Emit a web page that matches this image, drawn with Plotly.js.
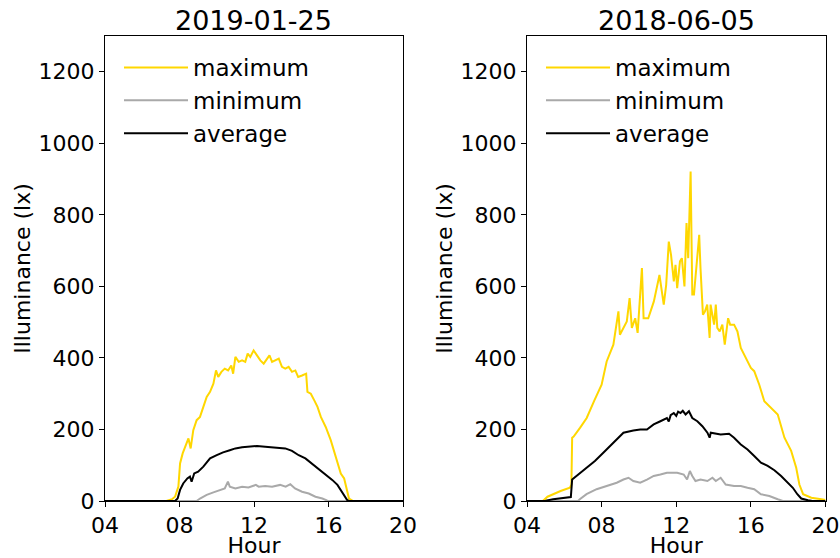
<!DOCTYPE html>
<html>
<head>
<meta charset="utf-8">
<script src="https://cdn.plot.ly/plotly-3.0.1.min.js"></script>
<style>
  html, body { margin: 0; padding: 0; background: #fff; }
  #chart { width: 840px; height: 558px; }
</style>
</head>
<body>
<div id="chart"></div>
<script>
// Daily illuminance profiles (lx) for two days, by hour of day.
const panelTitles = ['2019-01-25', '2018-06-05'];
const seriesNames = ['maximum', 'minimum', 'average'];
const seriesColors = ['#FFD700', '#A9A9A9', '#000000'];
const hourTickVals = [4, 8, 12, 16, 20];
const hourTickText = ['04', '08', '12', '16', '20'];
const luxTickVals = [0, 200, 400, 600, 800, 1000, 1200];

// 2019-01-25
const janMaxHours = [4, 7.3, 7.6, 7.76, 7.94, 8.03, 8.17, 8.35, 8.48, 8.6, 8.74, 8.92, 9.1, 9.28, 9.46, 9.64, 9.82, 9.96, 10.08, 10.25, 10.43, 10.61, 10.78, 10.88, 11.0, 11.18, 11.36, 11.53, 11.66, 11.8, 11.98, 12.16, 12.34, 12.52, 12.7, 12.83, 12.97, 13.15, 13.33, 13.5, 13.68, 13.86, 14.04, 14.22, 14.37, 14.58, 14.8, 14.87, 15.05, 15.23, 15.41, 15.59, 15.85, 16.12, 16.39, 16.66, 16.84, 16.97, 17.1, 17.28, 20];
const janMax = [0, 0, 5, 12, 40, 105, 133, 161, 175, 147, 198, 226, 235, 263, 291, 305, 328, 365, 347, 361, 370, 365, 379, 356, 403, 389, 393, 389, 412, 403, 421, 407, 393, 384, 398, 407, 389, 393, 398, 375, 370, 375, 361, 365, 347, 351, 356, 305, 300, 282, 263, 235, 207, 170, 124, 77, 63, 31, 7, 1, 0];

const janMinHours = [4, 8.92, 9.1, 9.46, 9.82, 10.16, 10.43, 10.6, 10.7, 11.0, 11.36, 11.7, 12.1, 12.25, 12.6, 12.97, 13.4, 13.7, 13.95, 14.2, 14.58, 14.94, 15.3, 15.67, 15.94, 16.1, 20];
const janMin = [0, 0, 7, 17, 24, 31, 35, 54, 40, 35, 40, 38, 45, 40, 42, 40, 45, 40, 47, 35, 26, 21, 12, 7, 1, 0, 0];

const janAvgHours = [4, 7.76, 7.9, 8.03, 8.2, 8.42, 8.56, 8.65, 8.79, 9.0, 9.28, 9.64, 10.0, 10.34, 10.7, 11.0, 11.36, 11.71, 12.16, 12.6, 12.97, 13.33, 13.68, 14.04, 14.4, 14.76, 15.1, 15.5, 15.85, 16.2, 16.48, 16.66, 16.84, 17.0, 17.1, 20];
const janAvg = [0, 0, 7, 31, 49, 63, 68, 54, 77, 82, 96, 119, 128, 136, 142, 147, 150, 152, 154, 152, 150, 147, 147, 140, 128, 119, 105, 86, 73, 59, 45, 31, 17, 3, 0, 0];

// 2018-06-05
const junMaxHours = [4, 4.85, 5.1, 5.4, 5.8, 6.3, 6.38, 6.42, 6.5, 6.85, 7.2, 7.6, 8.0, 8.27, 8.63, 8.9, 8.98, 9.35, 9.5, 9.62, 9.8, 9.93, 10.16, 10.25, 10.5, 10.8, 11.0, 11.1, 11.33, 11.46, 11.6, 11.72, 11.87, 11.96, 12.05, 12.2, 12.3, 12.44, 12.55, 12.64, 12.77, 12.86, 12.95, 13.06, 13.23, 13.3, 13.43, 13.54, 13.66, 13.79, 13.84, 14.03, 14.12, 14.2, 14.33, 14.47, 14.6, 14.78, 14.89, 15.1, 15.28, 15.46, 15.73, 16.0, 16.18, 16.45, 16.72, 17.08, 17.44, 17.8, 18.16, 18.43, 18.6, 18.8, 19.24, 19.78, 20];
const junMax = [0, 0, 12, 19, 28, 37, 46, 177, 180, 205, 232, 280, 325, 390, 437, 530, 465, 502, 567, 484, 511, 470, 651, 511, 511, 558, 604, 632, 549, 604, 725, 688, 614, 660, 595, 670, 679, 600, 777, 679, 921, 577, 577, 642, 744, 651, 521, 530, 549, 456, 549, 493, 549, 484, 474, 493, 437, 511, 493, 493, 474, 428, 400, 372, 363, 325, 279, 260, 242, 177, 140, 93, 46, 19, 9, 5, 3];

const junMinHours = [4, 6.74, 6.83, 7.19, 7.73, 8.27, 8.81, 9.17, 9.44, 9.7, 10.07, 10.43, 10.79, 11.15, 11.5, 12.05, 12.4, 12.58, 12.73, 12.86, 13.03, 13.3, 13.67, 13.94, 14.12, 14.38, 14.65, 15.1, 15.46, 15.82, 16.18, 16.54, 16.99, 17.44, 17.71, 20];
const junMin = [0, 0, 5, 19, 33, 42, 51, 60, 65, 56, 51, 60, 70, 74, 79, 79, 74, 60, 84, 70, 56, 60, 56, 65, 56, 65, 46, 42, 42, 37, 33, 19, 14, 5, 0, 0];

const junAvgHours = [4, 5.0, 5.4, 5.9, 6.35, 6.42, 6.74, 7.19, 7.64, 8.09, 8.63, 9.17, 9.7, 10.07, 10.43, 10.79, 11.15, 11.5, 11.6, 11.7, 11.87, 12.0, 12.1, 12.23, 12.35, 12.5, 12.68, 12.86, 13.13, 13.4, 13.67, 13.79, 13.85, 14.38, 14.83, 15.1, 15.46, 15.82, 16.18, 16.54, 16.9, 17.26, 17.62, 17.98, 18.25, 18.49, 18.7, 19.06, 19.3, 20];
const junAvg = [0, 1, 5, 9, 11, 60, 74, 93, 112, 135, 163, 191, 197, 200, 200, 214, 223, 232, 222, 240, 246, 238, 250, 246, 252, 242, 251, 232, 223, 209, 191, 177, 191, 186, 188, 177, 158, 144, 126, 107, 98, 86, 70, 51, 37, 19, 7, 2, 0, 0];

const FONT = 'DejaVu Sans, Liberation Sans, sans-serif';

const panels = [
  { xs: [janMaxHours, janMinHours, janAvgHours], ys: [janMax, janMin, janAvg], xa: 'x', ya: 'y', legend: 'legend' },
  { xs: [junMaxHours, junMinHours, junAvgHours], ys: [junMax, junMin, junAvg], xa: 'x2', ya: 'y2', legend: 'legend2' }
];

const traces = [];
panels.forEach(function (p) {
  for (let i = 0; i < seriesNames.length; i++) {
    traces.push({
      type: 'scatter',
      mode: 'lines',
      name: seriesNames[i],
      x: p.xs[i],
      y: p.ys[i],
      xaxis: p.xa,
      yaxis: p.ya,
      legend: p.legend,
      line: { color: seriesColors[i], width: 2 },
      hoverinfo: 'x+y+name'
    });
  }
});

function xAxis(domain, anchor) {
  return {
    domain: domain, anchor: anchor, range: [4, 20],
    tickmode: 'array', tickvals: hourTickVals, ticktext: hourTickText,
    ticks: 'outside', ticklen: 5, tickwidth: 1, tickcolor: '#000',
    showgrid: false, zeroline: false,
    showline: true, mirror: true, linecolor: '#000', linewidth: 1,
    tickfont: { family: FONT, size: 22, color: '#000' },
    title: { text: 'Hour', font: { family: FONT, size: 22, color: '#000' }, standoff: 6 }
  };
}
function yAxis(domain, anchor) {
  return {
    domain: domain, anchor: anchor, range: [0, 1300],
    tickmode: 'array', tickvals: luxTickVals,
    ticks: 'outside', ticklen: 5, tickwidth: 1, tickcolor: '#000',
    showgrid: false, zeroline: false,
    showline: true, mirror: true, linecolor: '#000', linewidth: 1,
    tickfont: { family: FONT, size: 22, color: '#000' },
    title: { text: 'Illuminance (lx)', font: { family: FONT, size: 22, color: '#000' }, standoff: 1 }
  };
}

const yDom = [1 - 501 / 558, 1 - 36 / 558];
const legendBase = {
  yanchor: 'top', xanchor: 'left', y: 1 - 46 / 558,
  bgcolor: 'rgba(0,0,0,0)', borderwidth: 0,
  itemwidth: 64, tracegroupgap: 0,
  font: { family: FONT, size: 23, color: '#000' }
};

const layout = {
  width: 840, height: 558,
  margin: { l: 0, r: 0, t: 0, b: 0 },
  paper_bgcolor: '#fff', plot_bgcolor: '#fff',
  showlegend: true,
  xaxis: xAxis([105 / 840, 403 / 840], 'y'),
  yaxis: yAxis(yDom, 'x'),
  xaxis2: xAxis([527 / 840, 825.5 / 840], 'y2'),
  yaxis2: yAxis(yDom, 'x2'),
  legend: Object.assign({}, legendBase, { x: 119 / 840 }),
  legend2: Object.assign({}, legendBase, { x: 541 / 840 }),
  annotations: [
    { text: panelTitles[0], xref: 'paper', yref: 'paper', x: 254 / 840, y: 1 - 20 / 558,
      xanchor: 'center', yanchor: 'middle', showarrow: false, font: { family: FONT, size: 27, color: '#000' } },
    { text: panelTitles[1], xref: 'paper', yref: 'paper', x: 676 / 840, y: 1 - 20 / 558,
      xanchor: 'center', yanchor: 'middle', showarrow: false, font: { family: FONT, size: 27, color: '#000' } }
  ]
};

Plotly.newPlot('chart', traces, layout, { displayModeBar: false, staticPlot: true });
</script>
</body>
</html>
